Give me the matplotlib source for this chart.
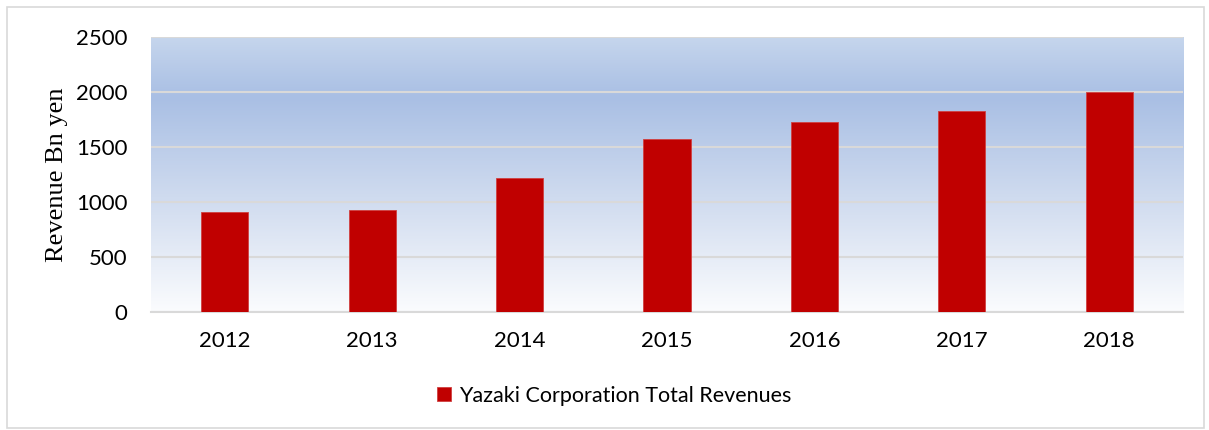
import numpy as np
import matplotlib.pyplot as plt
from matplotlib.colors import LinearSegmentedColormap
from matplotlib.patches import Rectangle

# donnees
years = ['2012', '2013', '2014', '2015', '2016', '2017', '2018']
revenues = [905, 930, 1215, 1570, 1725, 1827, 2000]
series_name = 'Yazaki Corporation Total Revenues'

fig = plt.figure(figsize=(12.09, 4.30), dpi=100)
ax = fig.add_axes([0.1249, 0.2744, 0.8536, 0.6396])

# fond degrade facon Excel
grad = LinearSegmentedColormap.from_list(
    'bg', [(0.0, '#fbfcfe'), (0.35, '#d6e0f1'), (0.78, '#a9bfe4'), (1.0, '#c6d6ed')])
g = np.linspace(0, 1, 256).reshape(-1, 1)
ax.imshow(g, cmap=grad, origin='lower', aspect='auto',
          extent=(-0.5, 6.5, 0, 2500), zorder=0)

x = np.arange(len(years))
ax.bar(x, revenues, width=0.32, color='#c00000', edgecolor='#d04040',
       linewidth=0.6, zorder=3, label=series_name)

ax.set_xlim(-0.5, 6.5)
ax.set_ylim(0, 2500)
ax.set_yticks(np.arange(0, 2501, 500))
ax.set_xticks(x)
ax.set_xticklabels(years)
ax.grid(axis='y', color='#d9d9d9', linewidth=1.5, zorder=1)

for s in ['top', 'right', 'left']:
    ax.spines[s].set_visible(False)
ax.spines['bottom'].set_color('#d9d9d9')
ax.spines['bottom'].set_linewidth(1.5)
ax.tick_params(length=0, labelsize=16)
ax.tick_params(axis='x', pad=14)
ax.tick_params(axis='y', pad=17)
for t in ax.get_xticklabels() + ax.get_yticklabels():
    t.set_fontfamily('Lato')

ax.set_ylabel('Revenue Bn yen', fontsize=19, family='Liberation Serif', labelpad=6)

leg = fig.legend(loc='center', bbox_to_anchor=(0.508, 0.08), frameon=False,
                 prop={'family': 'Lato', 'size': 15.5},
                 handlelength=0.65, handleheight=0.65, handletextpad=0.35)

# cadre du graphique
fig.patches.append(Rectangle((0.006, 0.005), 0.99, 0.978, transform=fig.transFigure,
                             fill=False, edgecolor='#d9d9d9', linewidth=1.2))

plt.savefig('out.png', dpi=100)
